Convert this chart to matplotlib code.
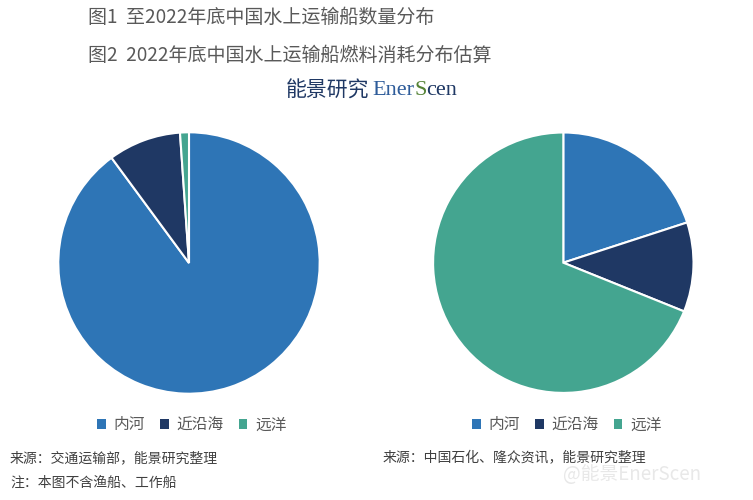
import matplotlib
matplotlib.use("Agg")
import matplotlib.pyplot as plt

plt.rcParams['font.family'] = ['Noto Sans CJK SC', 'DejaVu Sans']

categories = ['内河', '近沿海', '远洋']
ship_count_share = [89.9, 9.0, 1.1]      # 图1 船舶数量分布 (%)
fuel_share = [20.0, 11.1, 68.9]          # 图2 燃料消耗分布 (%)
colors = ['#2E75B6', '#1F3864', '#44A590']

title1 = '图1  至2022年底中国水上运输船数量分布'
title2 = '图2  2022年底中国水上运输船燃料消耗分布估算'
source1 = '来源：交通运输部，能景研究整理'
note1 = '注：本图不含渔船、工作船'
source2 = '来源：中国石化、隆众资讯，能景研究整理'

W, H = 753, 500
fig = plt.figure(figsize=(W / 100, H / 100), dpi=100)
fig.patch.set_facecolor('white')

def fx(px):
    return px / W

def fy(py):
    return 1 - py / H

def make_pie(center_x, center_y, r, values):
    ax = fig.add_axes([fx(center_x - r), fy(center_y + r), 2 * r / W, 2 * r / H])
    wedges, _ = ax.pie(values, colors=colors, startangle=90, counterclock=False,
                       radius=1, wedgeprops=dict(edgecolor='white', linewidth=1.5))
    ax.set_xlim(-1.01, 1.01)
    ax.set_ylim(-1.01, 1.01)
    ax.set_aspect('equal')
    ax.axis('off')
    return wedges

w1 = make_pie(189, 263, 132, ship_count_share)
w2 = make_pie(563.3, 262.7, 131.5, fuel_share)

ov = fig.add_axes([0, 0, 1, 1])
ov.set_xlim(0, 1)
ov.set_ylim(0, 1)
ov.axis('off')

gray = '#595959'
ov.text(fx(88), fy(17), title1, fontsize=13.7, color=gray, va='center', ha='left')
ov.text(fx(88), fy(55), title2, fontsize=13.7, color=gray, va='center', ha='left')

# logo
ov.text(fx(286), fy(91), '能景研究', fontsize=15, color='#1F3864', va='center', ha='left',
        family=['Noto Sans CJK SC'])
t2 = ov.text(fx(372), fy(91), 'Ener', fontsize=16, color='#2E5C9A', va='center', ha='left',
             family=['Liberation Serif'])
t3 = ov.annotate('S', xycoords=t2, xy=(1, 0), va='bottom', ha='left', fontsize=16,
                 color='#548235', family=['Liberation Serif'], annotation_clip=False)
ov.annotate('cen', xycoords=t3, xy=(1, 0), va='bottom', ha='left', fontsize=16,
            color='#1F3864', family=['Liberation Serif'], annotation_clip=False)

for cx, wedges in [(192, w1), (567, w2)]:
    leg = fig.legend(wedges, categories, loc='center', bbox_to_anchor=(fx(cx), fy(425)),
                     ncol=3, frameon=False, fontsize=11.3, handlelength=0.55, handleheight=0.55,
                     handletextpad=0.5, columnspacing=0.95, labelcolor=gray)
    for p in leg.get_patches():
        p.set_edgecolor('none')

ov.text(fx(10), fy(458), source1, fontsize=10, color='#404040', va='center', ha='left')
ov.text(fx(10), fy(483), note1, fontsize=10, color='#404040', va='center', ha='left')
ov.text(fx(383), fy(458), source2, fontsize=10, color='#404040', va='center', ha='left')

# watermark
ov.text(fx(563), fy(474), '@能景EnerScen', fontsize=13.5, color='#E8E8E8', va='center', ha='left')

fig.savefig('out.png', dpi=100, facecolor='white')
